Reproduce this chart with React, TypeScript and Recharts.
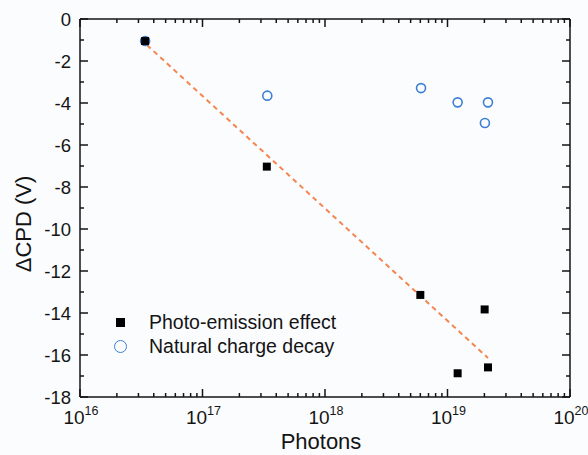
import React from 'react';
import { ScatterChart, Scatter, XAxis, YAxis, ReferenceLine, Legend, Label } from 'recharts';

const photoEmission = [
  { x: 3.4e16, y: -1.05 },
  { x: 3.35e17, y: -7.03 },
  { x: 6.0e18, y: -13.14 },
  { x: 1.21e19, y: -16.87 },
  { x: 2.01e19, y: -13.83 },
  { x: 2.14e19, y: -16.59 },
];
const naturalDecay = [
  { x: 3.4e16, y: -1.05 },
  { x: 3.38e17, y: -3.65 },
  { x: 6.08e18, y: -3.29 },
  { x: 1.21e19, y: -3.97 },
  { x: 2.02e19, y: -4.95 },
  { x: 2.14e19, y: -3.97 },
];
const fitLine = [
  { x: 3.52e16, y: -1.24 },
  { x: 2.14e19, y: -16.14 },
];
const xDecades = [1e16, 1e17, 1e18, 1e19, 1e20];
const xMinorMultipliers = [2, 3, 4, 5, 6, 7, 8, 9];
const yMajorTicks = [-18, -16, -14, -12, -10, -8, -6, -4, -2, 0];
const yMinorTicks = [-17, -15, -13, -11, -9, -7, -5, -3, -1];
const seriesNames = ['Photo-emission effect', 'Natural charge decay'];

const xTicks: number[] = [];
xDecades.forEach((d, i) => {
  xTicks.push(d);
  if (i < xDecades.length - 1) xMinorMultipliers.forEach((m) => xTicks.push(m * d));
});
xTicks.sort((a, b) => a - b);
const yTicks = [...yMajorTicks, ...yMinorTicks].sort((a, b) => a - b);

const X_MIN = xDecades[0];
const X_MAX = xDecades[xDecades.length - 1];
const Y_MIN = yMajorTicks[0];
const Y_MAX = yMajorTicks[yMajorTicks.length - 1];

const AX = '#141414';
const FONT = '"Liberation Sans", Arial, Helvetica, sans-serif';
const BLUE = '#3d7fd4';
const ORANGE = '#f4854f';

// plot geometry (px) used to express tick lengths
const PX_PER_Y_UNIT = 378 / 18;
const PX_PER_DECADE = 490 / 4;
const MAJOR_LEN = 8;
const MINOR_LEN = 4;

const isDecade = (v: number) => {
  const lg = Math.log10(v);
  return Math.abs(lg - Math.round(lg)) < 1e-6;
};

const BottomTick = (props: any) => {
  const { x, y, payload } = props;
  const v = payload.value;
  if (!isDecade(v)) return <g />;
  return (
    <text x={x + 1} y={y + 27} textAnchor="middle" fontSize={19} fill={AX} fontFamily={FONT}>
      10<tspan dy={-9} fontSize={12.5}>{Math.round(Math.log10(v))}</tspan>
    </text>
  );
};

const LeftTick = (props: any) => {
  const { x, y, payload } = props;
  const v = payload.value;
  if (v % 2 !== 0) return <g />;
  return (
    <text x={x - 9} y={y + 6.5} textAnchor="end" fontSize={18.5} fill={AX} fontFamily={FONT}>
      {v}
    </text>
  );
};

const legendText: React.CSSProperties = {
  position: 'absolute',
  left: 39,
  fontSize: 19.5,
  lineHeight: '20px',
  color: AX,
  fontFamily: FONT,
  whiteSpace: 'nowrap',
};

const renderLegend = () => (
  <div style={{ position: 'relative', width: 260, height: 52 }}>
    <div style={{ position: 'absolute', left: 6.2, top: 8.2, width: 9, height: 9, background: '#000' }} />
    <div style={{ ...legendText, top: 1.6 }}>{seriesNames[0]}</div>
    <div
      style={{
        position: 'absolute',
        left: 4.1,
        top: 30.1,
        width: 13.2,
        height: 13.2,
        boxSizing: 'border-box',
        border: `1.6px solid ${BLUE}`,
        borderRadius: '50%',
      }}
    />
    <div style={{ ...legendText, top: 26.3 }}>{seriesNames[1]}</div>
  </div>
);

const lineStyle = { stroke: AX, strokeWidth: 1.5, ifOverflow: 'visible' as const, xAxisId: 'b', yAxisId: 'l' };

export default function App() {
  const frame = [
    [{ x: X_MIN, y: Y_MIN }, { x: X_MAX, y: Y_MIN }],
    [{ x: X_MIN, y: Y_MAX }, { x: X_MAX, y: Y_MAX }],
    [{ x: X_MIN, y: Y_MIN }, { x: X_MIN, y: Y_MAX }],
    [{ x: X_MAX, y: Y_MIN }, { x: X_MAX, y: Y_MAX }],
  ];
  const xTickSegs: any[] = [];
  xTicks.forEach((v) => {
    const L = (isDecade(v) ? MAJOR_LEN : MINOR_LEN) / PX_PER_Y_UNIT;
    xTickSegs.push([{ x: v, y: Y_MIN }, { x: v, y: Y_MIN + L }]);
    xTickSegs.push([{ x: v, y: Y_MAX }, { x: v, y: Y_MAX - L }]);
  });
  const yTickSegs: any[] = [];
  yTicks.forEach((v) => {
    const f = Math.pow(10, (v % 2 === 0 ? MAJOR_LEN : MINOR_LEN) / PX_PER_DECADE);
    yTickSegs.push([{ x: X_MIN, y: v }, { x: X_MIN * f, y: v }]);
    yTickSegs.push([{ x: X_MAX, y: v }, { x: X_MAX / f, y: v }]);
  });

  return (
    <div style={{ position: 'absolute', left: 0, top: 0, width: 588, height: 455, background: '#fbfcfe' }}>
      <ScatterChart width={588} height={455} margin={{ top: 19, right: 18, bottom: 0, left: 0 }}>
        <XAxis
          xAxisId="b"
          type="number"
          dataKey="x"
          scale="log"
          domain={[X_MIN, X_MAX]}
          allowDataOverflow
          ticks={xTicks}
          interval={0}
          tickSize={0}
          tickMargin={0}
          height={58}
          tick={<BottomTick />}
          tickLine={false}
          axisLine={false}
        >
          <Label
            content={(p: any) => (
              <text x={p.viewBox.x + p.viewBox.width / 2 - 4} y={p.viewBox.y + 52} textAnchor="middle" fontSize={22} fill={AX} fontFamily={FONT}>
                Photons
              </text>
            )}
          />
        </XAxis>
        <YAxis
          yAxisId="l"
          type="number"
          dataKey="y"
          domain={[Y_MIN, Y_MAX]}
          allowDataOverflow
          ticks={yTicks}
          interval={0}
          tickSize={0}
          tickMargin={0}
          width={80}
          tick={<LeftTick />}
          tickLine={false}
          axisLine={false}
        />
        {frame.map((s, i) => (
          <ReferenceLine key={`f${i}`} segment={s} {...lineStyle} />
        ))}
        {xTickSegs.map((s, i) => (
          <ReferenceLine key={`xt${i}`} segment={s} {...lineStyle} />
        ))}
        {yTickSegs.map((s, i) => (
          <ReferenceLine key={`yt${i}`} segment={s} {...lineStyle} />
        ))}
        <ReferenceLine
          xAxisId="b"
          yAxisId="l"
          segment={fitLine}
          stroke={ORANGE}
          strokeWidth={2}
          strokeDasharray="5 4"
        />
        <Scatter
          name={seriesNames[1]}
          xAxisId="b"
          yAxisId="l"
          data={naturalDecay}
          shape="circle"
          size={106}
          fill="none"
          stroke={BLUE}
          strokeWidth={1.6}
          isAnimationActive={false}
        />
        <Scatter
          name={seriesNames[0]}
          xAxisId="b"
          yAxisId="l"
          data={photoEmission}
          shape="square"
          size={81}
          fill="#000"
          isAnimationActive={false}
        />
        <Legend
          layout="vertical"
          align="center"
          verticalAlign="middle"
          content={renderLegend}
          wrapperStyle={{ left: 110, top: 310, width: 260, height: 52 }}
        />
        <text x={31} y={224} transform="rotate(-90 31 224)" textAnchor="middle" fontSize={22} fill={AX} fontFamily={FONT}>
          ΔCPD (V)
        </text>
      </ScatterChart>
    </div>
  );
}
